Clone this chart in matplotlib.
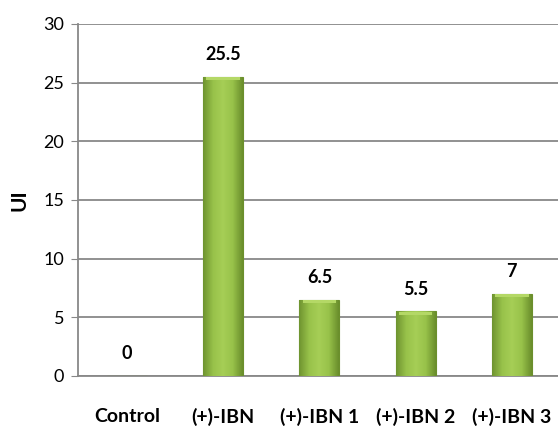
import numpy as np
import matplotlib.pyplot as plt
from matplotlib.colors import LinearSegmentedColormap

categories = ['Control', '(+)-IBN', '(+)-IBN 1', '(+)-IBN 2', '(+)-IBN 3']
values = [0, 25.5, 6.5, 5.5, 7]
value_labels = ['0', '25.5', '6.5', '5.5', '7']

plt.rcParams['font.family'] = ['Lato', 'DejaVu Sans']

fig = plt.figure(figsize=(5.58, 4.30), dpi=100)
ax = fig.add_axes([78/558, 54/430, 1 - 78/558, 352/430])

x = np.arange(len(categories))
bars = ax.bar(x, values, width=0.415, color='#9CC54A', edgecolor='#6B8F2C',
              linewidth=0.8, zorder=3)

# horizontal shading to mimic the bevelled bars
cmap = LinearSegmentedColormap.from_list('bev', ['#6F9430', '#98C24A', '#A6CE56',
                                                 '#98C24A', '#6A8E2C'])
grad = np.linspace(0, 1, 64).reshape(1, -1)
for b in bars:
    if b.get_height() <= 0:
        continue
    x0, w, h = b.get_x(), b.get_width(), b.get_height()
    im = ax.imshow(grad, cmap=cmap, aspect='auto', zorder=3.5,
                   extent=[x0, x0 + w, 0, h], interpolation='bilinear')
    im.set_clip_path(b)
    ax.add_patch(plt.Rectangle((x0 + w*0.08, h - 0.3), w*0.84, 0.25,
                               color='#B4D866', zorder=4, lw=0))

for xi, v, lab in zip(x, values, value_labels):
    ax.annotate(lab, (xi, v), xytext=(0, 10), textcoords='offset points',
                ha='center', va='bottom', fontsize=13, fontweight='bold')

ax.set_xlim(-0.51, 4.48)
ax.set_ylim(0, 30)
ax.set_yticks(range(0, 31, 5))
ax.set_xticks(x)
ax.set_xticklabels(categories, fontsize=14, fontweight='bold')
ax.tick_params(axis='x', length=0, pad=23)
ax.tick_params(axis='y', length=5, color='#888888', labelsize=13, pad=5)
ax.yaxis.grid(True, color='#888888', linewidth=1.3, zorder=0)
ax.set_axisbelow(True)
for s in ['top', 'right']:
    ax.spines[s].set_visible(False)
ax.spines['left'].set_color('#888888')
ax.spines['left'].set_linewidth(1.3)
ax.spines['bottom'].set_color('#888888')
ax.spines['bottom'].set_linewidth(1.3)
ax.set_ylabel('UI', fontsize=15, fontweight='bold', labelpad=10)

fig.savefig('out.png', dpi=100)
